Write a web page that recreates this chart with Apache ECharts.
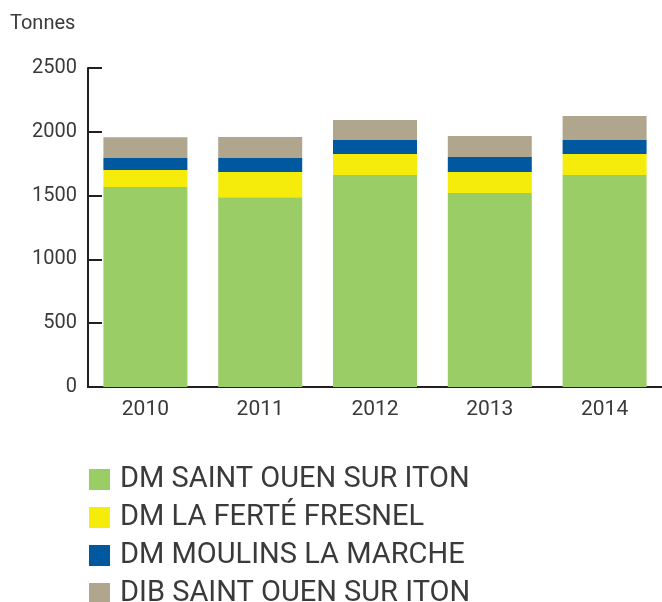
<!DOCTYPE html>
<html>
<head>
<meta charset="utf-8">
<script src="https://cdn.jsdelivr.net/npm/echarts@6/dist/echarts.min.js"></script>
<style>
  html, body { margin: 0; padding: 0; background: #fff; }
  #chart { width: 662px; height: 602px; }
</style>
</head>
<body>
<div id="chart"></div>
<script>
// années
var years = ['2010', '2011', '2012', '2013', '2014']
// tonnages par site
var stOuen = [1567, 1487, 1661, 1520, 1661]
var laFerte = [133, 198, 165, 165, 165]
var moulins = [94, 110, 110, 118, 110]
var dibStOuen = [164, 164, 156, 164, 188]
var seriesNames = ['DM SAINT OUEN SUR ITON', 'DM LA FERTÉ FRESNEL', 'DM MOULINS LA MARCHE', 'DIB SAINT OUEN SUR ITON']
var colors = ['#9acd66', '#f5ec0b', '#00599f', '#b0a58d']

var font = 'Roboto, sans-serif'
var textColor = '#3a3a3a'
var axisColor = '#231f20'

var chart = echarts.init(document.getElementById('chart'))

function bar (name, data, color) {
  return {
    name: name,
    type: 'bar',
    stack: 'total',
    barWidth: 84,
    itemStyle: { color: color },
    data: data
  }
}

chart.setOption({
  animation: false,
  title: {
    text: 'Tonnes',
    left: 10,
    top: 14,
    padding: 0,
    textStyle: { fontFamily: font, fontSize: 20, fontWeight: 'normal', color: textColor }
  },
  legend: {
    orient: 'vertical',
    left: 89,
    top: 465,
    height: 200,
    padding: 0,
    itemWidth: 21,
    itemHeight: 21,
    itemGap: 9,
    icon: 'rect',
    textStyle: { fontFamily: font, fontSize: 29, color: textColor, padding: [2, 0, 0, 5] },
    data: seriesNames
  },
  grid: { left: 88, top: 68, width: 577, height: 319 },
  xAxis: {
    type: 'category',
    data: years,
    axisLine: { lineStyle: { color: axisColor, width: 2 } },
    axisTick: { inside: true, length: 8, lineStyle: { color: axisColor, width: 2 } },
    axisLabel: { fontFamily: font, fontSize: 21, color: textColor, margin: 12 }
  },
  yAxis: {
    type: 'value',
    min: 0,
    max: 2500,
    interval: 500,
    splitLine: { show: false },
    axisLine: { show: true, lineStyle: { color: axisColor, width: 2 } },
    axisTick: { show: true, inside: true, length: 14, lineStyle: { color: axisColor, width: 2 } },
    axisLabel: {
      fontFamily: font, fontSize: 20, color: textColor, margin: 11,
      formatter: function (v) { return String(v) }
    }
  },
  series: [
    bar(seriesNames[0], stOuen, colors[0]),
    bar(seriesNames[1], laFerte, colors[1]),
    bar(seriesNames[2], moulins, colors[2]),
    bar(seriesNames[3], dibStOuen, colors[3])
  ]
})
</script>
</body>
</html>
